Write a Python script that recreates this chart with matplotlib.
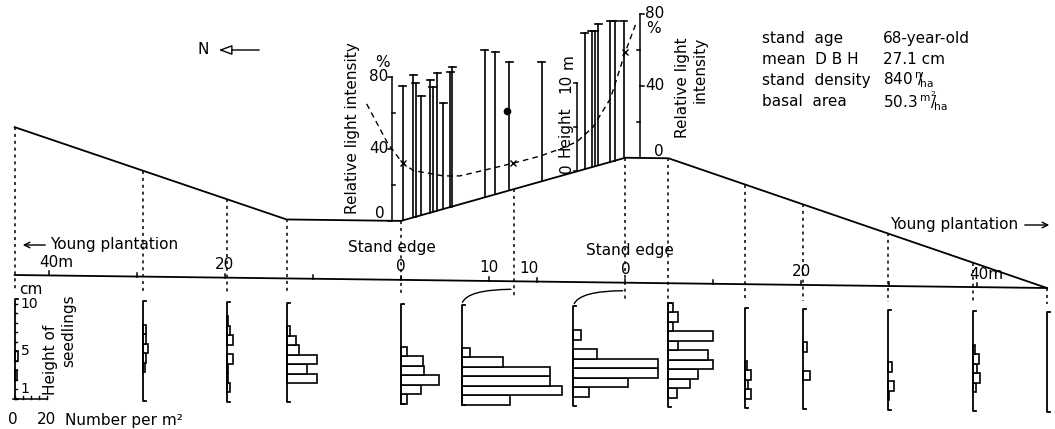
import numpy as np
import matplotlib.pyplot as plt

plt.rcParams['font.family'] = ['DejaVu Sans']

# --- data (metres along the transect, measured from the north stand edge) ---
profile_m = [-43.9, -13.0, 0.0, 25.5, 30.4, 73.4]
profile_elev = [16.8, 6.7, 6.7, 14.2, 14.2, 0.0]

sample_m = [-43.9, -29.3, -19.8, -13.0, 0.0, 12.8, 25.5, 30.3, 39.1, 45.7, 55.3, 65.0, 73.4]

tree_m = [0.2, 1.4, 1.7, 2.3, 3.3, 3.6, 4.1, 4.8, 5.6, 5.8, 9.5, 10.7, 12.3,
          16.0, 20.9, 21.7, 22.0, 22.4, 23.8, 24.3, 25.3]
tree_h = [15.3, 16.2, 15.2, 13.6, 15.1, 14.2, 15.7, 12.1, 15.3, 15.8, 16.8, 16.2, 14.6,
          13.5, 15.5, 15.5, 15.4, 16.1, 16.0, 15.9, 15.6]

# relative light intensity (%), read against the left-hand scale
light_m = [-3.9, -1.5, 0.2, 1.4, 4.8, 6.7, 9.3, 12.7, 15.8, 18.1, 20.0, 21.8, 23.8, 25.5, 26.8]
light_pct = [65, 43, 32, 28, 25, 25, 28, 32, 36, 40, 44, 52, 68, 94, 111]
light_mark_m = [0.2, 12.7, 25.5]
gap_m, gap_pct = 12.0, 61

# seedling height distribution per sample point: lowest class (cm) and number per m2
seedling_lo = [2, 3, 1, 2, 0, 0, 1, 1, 1, 3, 1, 2, 0]
seedlings = [
    [1.5, 0, 2],
    [1, 1.7, 3, 1.5, 2],
    [2, 0.5, 0.5, 3.8, 0, 3.8, 2, 1],
    [19, 13, 19, 8, 6, 2],
    [3.8, 12.7, 23.5, 14.6, 13.5, 3.8],
    [30, 63, 55, 55, 26, 5],
    [10, 34, 53, 53, 15, 0, 5],
    [5.6, 14, 19, 28.5, 25.4, 6.3, 28.5, 3.5, 6.3, 3.5],
    [3.8, 2, 3.8, 1],
    [4.2, 0, 0, 2.7],
    [1, 3.8, 0, 2.5],
    [2, 4.2, 2.7, 3.5, 1.5],
    [],
]

info_keys = ['stand  age', 'mean  D B H', 'stand  density', 'basal  area']
info_vals = ['68-year-old', '27.1 cm', r'840$\,^{\mathrm{n}}\!\!/\!_{\mathrm{ha}}$',
             r'50.3$\,^{\mathrm{m^2}}\!\!/\!_{\mathrm{ha}}$']

# --- drawing scale (pixels) ---
X0, M = 401, 8.8          # left stand edge, px per metre
RLI = 1.8                 # px per % light
CM, NUM = 9.5, 1.6        # seedling plot: px per cm, px per seedling/m2
HIST_SHIFT = {5: -52, 6: -52}


def X(p):
    return X0 + M * np.asarray(p, dtype=float)


def base_y(x):
    return 275 + 0.0126 * (np.asarray(x, dtype=float) - 15)


def ground(p):
    return np.interp(p, profile_m, profile_elev)


def Y(p, elev):
    return base_y(X(p)) - M * np.asarray(elev, dtype=float)


def hist_y(x, cm):
    return 399 + 0.0126 * (x - 15) - CM * np.asarray(cm, dtype=float)


fig = plt.figure(figsize=(10.55, 4.29), dpi=100)
ax = fig.add_axes([0, 0, 1, 1])
ax.set_xlim(0, 1055)
ax.set_ylim(429, 0)
ax.axis('off')
k = dict(color='black')
fs = 11

# ground profile and distance axis
pp = np.array(profile_m)
ax.plot(X(pp), Y(pp, profile_elev), lw=1.3, **k)
bx = np.array([X(-43.9), X(73.4)])
ax.plot(bx, base_y(bx), lw=1.3, **k)
for t in [-40, -30, -20, -10, 0, 10, 15.5, 25.5, 35.5, 45.5, 55.5, 65.5]:
    x = X(t)
    ax.plot([x, x], [base_y(x), base_y(x) - 4], lw=1.1, **k)
for t, lab, dx in [(-40, '40m', 7), (-20, '20', 0), (0, '0', 0), (10, '10', 0),
                   (15.5, '10', -8), (25.5, '0', 0), (45.5, '20', 0), (65.5, '40m', 9)]:
    x = X(t) + dx
    ax.text(x, base_y(x) - 13, lab, ha='center', va='center', fontsize=fs)

# sample points
for i, p in enumerate(sample_m):
    x = X(p)
    ax.plot([x, x], [Y(p, ground(p)), base_y(x) + 16], ls=(0, (2, 2.5)), lw=1.1, **k)

# trees
for p, h in zip(tree_m, tree_h):
    x = X(p)
    y0 = Y(p, ground(p))
    y1 = y0 - M * h
    ax.plot([x, x], [y0, y1], lw=1.2, **k)
    ax.plot([x - 3.5, x + 3.5], [y1, y1], lw=1.2, **k)

# light intensity curve and its two scales
y_rli0 = float(Y(0, ground(0)))
ax.plot(X(light_m), y_rli0 - RLI * np.array(light_pct), ls=(0, (4, 3)), lw=1.0, **k)
ax.plot(X(light_mark_m), y_rli0 - RLI * np.interp(light_mark_m, light_m, light_pct),
        'x', ms=4, mew=1.0, **k)
ax.plot(X(gap_m), y_rli0 - RLI * gap_pct, 'o', ms=4.5, mfc='black', mec='black')

xl = X(-1.0)
ax.plot([xl, xl], [y_rli0, y_rli0 - 80 * RLI], lw=1.1, **k)
for v in [0, 20, 40, 60, 80]:
    yv = y_rli0 - v * RLI
    ax.plot([xl - 4, xl] if v % 40 == 0 else [xl, xl + 3], [yv, yv], lw=1.1, **k)
ax.text(xl - 4, y_rli0 - 80 * RLI, '80', ha='right', va='center', fontsize=fs)
ax.text(xl - 4, y_rli0 - 40 * RLI, '40', ha='right', va='center', fontsize=fs)
ax.text(xl - 12, y_rli0 - 7, '0', ha='center', va='center', fontsize=fs)
ax.text(xl - 10, y_rli0 - 88 * RLI, '%', ha='center', va='center', fontsize=fs)
ax.text(352, 214, 'Relative light intensity', rotation=90, rotation_mode='anchor',
        ha='left', va='center', fontsize=fs)

pr = 27.2
xr = X(pr)
y_r0 = float(Y(pr, ground(pr)))
ax.plot([xr, xr], [y_r0, y_r0 - 80 * RLI], lw=1.1, **k)
for v in [20, 40, 60, 80]:
    yv = y_r0 - v * RLI
    ax.plot([xr, xr + 4] if v % 40 == 0 else [xr - 3, xr], [yv, yv], lw=1.1, **k)
ax.text(xr + 5, y_r0 - 80 * RLI, '80', ha='left', va='center', fontsize=fs)
ax.text(xr + 6, y_r0 - 72 * RLI, '%', ha='left', va='center', fontsize=fs)
ax.text(xr + 5, y_r0 - 40 * RLI, '40', ha='left', va='center', fontsize=fs)
ax.text(xr + 18, y_r0 - 6, '0', ha='center', va='center', fontsize=fs)
ax.text(683, 37, 'Relative light', rotation=90, rotation_mode='anchor',
        ha='right', va='center', fontsize=fs)
ax.text(700, 37, 'intensity', rotation=90, rotation_mode='anchor',
        ha='right', va='center', fontsize=fs)

# tree height scale
ph = 20.0
xh = X(ph)
y_h0 = float(Y(ph, ground(ph)))
ax.plot([xh, xh], [y_h0, y_h0 - 10 * M], lw=1.1, **k)
for v in [0, 5, 10]:
    ax.plot([xh - 3, xh], [y_h0 - v * M] * 2, lw=1.1, **k)
ax.text(xh - 11, y_h0 - 10 * M, '10', rotation=90, ha='center', va='center', fontsize=fs)
ax.text(xh - 10, y_h0 - 3, '0', rotation=90, ha='center', va='center', fontsize=fs)
ax.text(xh - 12, y_h0 - 14, 'Height', rotation=90, rotation_mode='anchor',
        ha='left', va='center', fontsize=fs)
ax.text(xh - 9, y_h0 - 12.5 * M, 'm', rotation=90, ha='center', va='center', fontsize=fs)

# seedling histograms
for i, (p, lo, counts) in enumerate(zip(sample_m, seedling_lo, seedlings)):
    hx = float(X(p)) + HIST_SHIFT.get(i, 0)
    top_cm = max(10.5, lo + len(counts))
    yb, yt = hist_y(hx, 0), hist_y(hx, top_cm)
    ax.plot([hx + 3, hx, hx, hx + 3], [yt, yt, yb, yb], lw=1.3, **k)
    for j, c in enumerate(counts):
        if c <= 0:
            continue
        ax.add_patch(plt.Rectangle((hx, hist_y(hx, lo + j + 1)), c * NUM, CM,
                                   fc='white', ec='black', lw=1.2))
    if i in HIST_SHIFT:
        sx = float(X(p))
        ax.annotate('', xy=(sx, base_y(sx) + 8), xytext=(hx, yt),
                    arrowprops=dict(arrowstyle='-', lw=1.0, color='black',
                                    connectionstyle='angle3,angleA=80,angleB=0'))

# seedling scale on the first plot
hx0 = float(X(sample_m[0]))
for c in range(11):
    yc = hist_y(hx0, c)
    ax.plot([hx0, hx0 + 2.5], [yc, yc], lw=1.0, **k)
for c, lab in [(10, '10'), (5, '5'), (1, '1')]:
    ax.text(hx0 + 6, hist_y(hx0, c), lab, ha='left', va='center', fontsize=fs - 1)
ax.text(hx0 + 4, 290, 'cm', ha='left', va='center', fontsize=fs)
yb0 = float(hist_y(hx0, 0))
ax.plot([hx0 - 2, hx0 + 20 * NUM], [yb0, yb0], lw=1.1, **k)
for n in range(0, 25, 5):
    ax.plot([hx0 + n * NUM] * 2, [yb0, yb0 - 3], lw=1.0, **k)
ax.text(hx0 - 2, 420, '0', ha='center', va='center', fontsize=fs)
ax.text(hx0 + 20 * NUM, 420, '20', ha='center', va='center', fontsize=fs)
ax.text(65, 420, 'Number per m²', ha='left', va='center', fontsize=fs)
ax.text(50, 395, 'Height of', rotation=90, rotation_mode='anchor',
        ha='left', va='center', fontsize=fs)
ax.text(69, 367, 'seedlings', rotation=90, rotation_mode='anchor',
        ha='left', va='center', fontsize=fs)

# area labels
ax.annotate('', xy=(20, 245), xytext=(48, 245),
            arrowprops=dict(arrowstyle='->', lw=1.0, color='black'))
ax.text(50, 245, 'Young plantation', ha='left', va='center', fontsize=fs)
ax.text(1018, 225, 'Young plantation', ha='right', va='center', fontsize=fs)
ax.annotate('', xy=(1052, 225), xytext=(1022, 225),
            arrowprops=dict(arrowstyle='->', lw=1.0, color='black'))
ax.text(X(0) - 9, base_y(X(0)) - 32, 'Stand edge', ha='center', va='center', fontsize=fs)
ax.text(X(25.5) + 5, base_y(X(25.5)) - 32, 'Stand edge', ha='center', va='center', fontsize=fs)

# north arrow
ax.text(203, 50, 'N', ha='center', va='center', fontsize=fs)
ax.annotate('', xy=(216, 50), xytext=(262, 50),
            arrowprops=dict(arrowstyle='-|>,head_length=0.8,head_width=0.3',
                            lw=1.0, fc='white', ec='black'))

# stand information
for j, (kk, vv) in enumerate(zip(info_keys, info_vals)):
    ax.text(762, 38 + 21 * j, kk, ha='left', va='center', fontsize=fs)
    ax.text(883, 38 + 21 * j, vv, ha='left', va='center', fontsize=fs)

fig.savefig('out.png', dpi=100)
